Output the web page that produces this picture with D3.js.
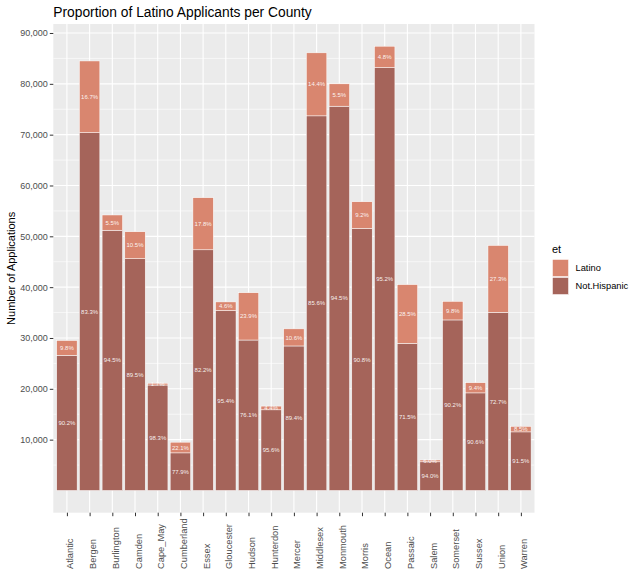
<!DOCTYPE html>
<html>
<head>
<meta charset="utf-8">
<script src="https://cdn.jsdelivr.net/npm/d3@7"></script>
<style>
  body { margin: 0; background: #fff; }
  text { font-family: "Liberation Sans", Arial, sans-serif; }
</style>
</head>
<body>
<div id="chart"></div>
<script>
// county names on the x axis
const counties = ["Atlantic", "Bergen", "Burlington", "Camden", "Cape_May", "Cumberland", "Essex",
  "Gloucester", "Hudson", "Hunterdon", "Mercer", "Middlesex", "Monmouth", "Morris", "Ocean",
  "Passaic", "Salem", "Somerset", "Sussex", "Union", "Warren"]

// applications by ethnicity
const notHispanic = [26600, 70400, 51200, 45600, 20750, 7400, 47350, 35400, 29600, 15870, 28430,
  73700, 75600, 51550, 83200, 28950, 5640, 33550, 19200, 35050, 11530]
const latino = [2900, 14100, 3000, 5300, 350, 2100, 10250, 1700, 9300, 730, 3370,
  12400, 4400, 5250, 4200, 11550, 360, 3650, 2000, 13150, 1070]

// percentage labels printed inside the bars
const latinoPct = ["9.8%", "16.7%", "5.5%", "10.5%", "1.7%", "22.1%", "17.8%", "4.6%", "23.9%", "4.4%", "10.6%",
  "14.4%", "5.5%", "9.2%", "4.8%", "28.5%", "6.0%", "9.8%", "9.4%", "27.3%", "8.5%"]
const notHispanicPct = ["90.2%", "83.3%", "94.5%", "89.5%", "98.3%", "77.9%", "82.2%", "95.4%", "76.1%", "95.6%", "89.4%",
  "85.6%", "94.5%", "90.8%", "95.2%", "71.5%", "94.0%", "90.2%", "90.6%", "72.7%", "91.5%"]

const yTicks = [10000, 20000, 30000, 40000, 50000, 60000, 70000, 80000, 90000]
const yMinor = [5000, 15000, 25000, 35000, 45000, 55000, 65000, 75000, 85000]

const groups = ["Latino", "Not.Hispanic"]
const colors = { "Latino": "#d9866f", "Not.Hispanic": "#a5645a" }

const W = 640, H = 588
const panel = { left: 53.3, right: 534.5, top: 24, bottom: 512.7 }

const svg = d3.select('#chart').append('svg')
  .attr('width', W)
  .attr('height', H)

// discrete x like ggplot: 0.6 units of padding at each end
const x = d3.scalePoint()
  .domain(counties)
  .range([panel.left, panel.right])
  .padding(0.6)
const step = x.step()
const barW = step * 0.9

const maxTotal = d3.max(counties, (c, i) => latino[i] + notHispanic[i])
const y = d3.scaleLinear()
  .domain([-0.05 * maxTotal, maxTotal * 1.05])
  .range([panel.bottom, panel.top])

// panel background + grid
svg.append('rect')
  .attr('x', panel.left).attr('y', panel.top)
  .attr('width', panel.right - panel.left).attr('height', panel.bottom - panel.top)
  .attr('fill', '#ebebeb')

const grid = svg.append('g')
grid.selectAll('.minor').data(yMinor).join('line')
  .attr('x1', panel.left).attr('x2', panel.right)
  .attr('y1', d => y(d)).attr('y2', d => y(d))
  .attr('stroke', '#fff').attr('stroke-width', 0.6)
grid.selectAll('.major').data(yTicks).join('line')
  .attr('x1', panel.left).attr('x2', panel.right)
  .attr('y1', d => y(d)).attr('y2', d => y(d))
  .attr('stroke', '#fff').attr('stroke-width', 1.1)
grid.selectAll('.vmajor').data(counties).join('line')
  .attr('x1', d => x(d)).attr('x2', d => x(d))
  .attr('y1', panel.top).attr('y2', panel.bottom)
  .attr('stroke', '#fff').attr('stroke-width', 1.1)

// stacked rows: Not.Hispanic at the bottom, Latino on top
const rows = counties.map((c, i) => ({ county: c, "Not.Hispanic": notHispanic[i], "Latino": latino[i] }))
const stack = d3.stack().keys(["Not.Hispanic", "Latino"])
const series = stack(rows)

const bars = svg.append('g')
bars.selectAll('g').data(series).join('g')
  .attr('fill', d => colors[d.key])
  .selectAll('rect').data(d => d).join('rect')
    .attr('x', d => x(d.data.county) - barW / 2)
    .attr('width', barW)
    .attr('y', d => y(d[1]))
    .attr('height', d => y(d[0]) - y(d[1]))
    .attr('stroke', '#fff')
    .attr('stroke-width', 0.5)

// percentage labels, centred in each segment
const labels = svg.append('g')
  .attr('font-size', 6)
  .attr('fill', '#fff')
  .attr('fill-opacity', 0.92)
  .attr('text-anchor', 'middle')
series.forEach(s => {
  const pct = s.key == "Latino" ? latinoPct : notHispanicPct
  labels.selectAll('.l' + s.key.replace('.', '')).data(s).join('text')
    .attr('x', d => x(d.data.county))
    .attr('y', d => y((d[0] + d[1]) / 2))
    .attr('dy', '0.35em')
    .text((d, i) => pct[i])
})

// y axis
const yAxis = svg.append('g')
  .attr('transform', `translate(${panel.left},0)`)
  .call(d3.axisLeft(y).tickValues(yTicks).tickSize(3.5).tickPadding(2).tickFormat(d3.format(',')))
yAxis.select('.domain').remove()
yAxis.selectAll('line').attr('stroke', '#333')
yAxis.selectAll('text').attr('fill', '#4d4d4d').attr('font-size', 9)
  .style('font-family', '"Liberation Sans", Arial, sans-serif')

// x axis
const xAxis = svg.append('g')
  .attr('transform', `translate(0,${panel.bottom})`)
  .call(d3.axisBottom(x).tickSize(3.5).tickFormat(''))
xAxis.select('.domain').remove()
xAxis.selectAll('line').attr('stroke', '#333')

svg.append('g').selectAll('text').data(counties).join('text')
  .attr('transform', d => `translate(${x(d) + 6.5},569) rotate(-90)`)
  .attr('text-anchor', 'start')
  .attr('font-size', 9.3)
  .attr('fill', '#4d4d4d')
  .text(d => d)

// titles
svg.append('text')
  .attr('x', panel.left).attr('y', 17)
  .attr('font-size', 13.8)
  .attr('fill', '#000')
  .text('Proportion of Latino Applicants per County')

svg.append('text')
  .attr('transform', `translate(15,${(panel.top + panel.bottom) / 2}) rotate(-90)`)
  .attr('text-anchor', 'middle')
  .attr('font-size', 11)
  .attr('fill', '#000')
  .text('Number of Applications')

// legend
const legend = svg.append('g').attr('transform', 'translate(552,0)')
legend.append('text')
  .attr('x', 0).attr('y', 253)
  .attr('font-size', 11)
  .text('et')
groups.forEach((g, i) => {
  legend.append('rect')
    .attr('x', 0.5).attr('y', 259.5 + i * 18)
    .attr('width', 16).attr('height', 17)
    .attr('fill', colors[g])
    .attr('stroke', '#fff').attr('stroke-width', 0.5)
  legend.append('text')
    .attr('x', 23.5).attr('y', 268 + i * 18)
    .attr('dy', '0.35em')
    .attr('font-size', 9.3)
    .attr('fill', '#000')
    .text(g)
})
</script>
</body>
</html>
